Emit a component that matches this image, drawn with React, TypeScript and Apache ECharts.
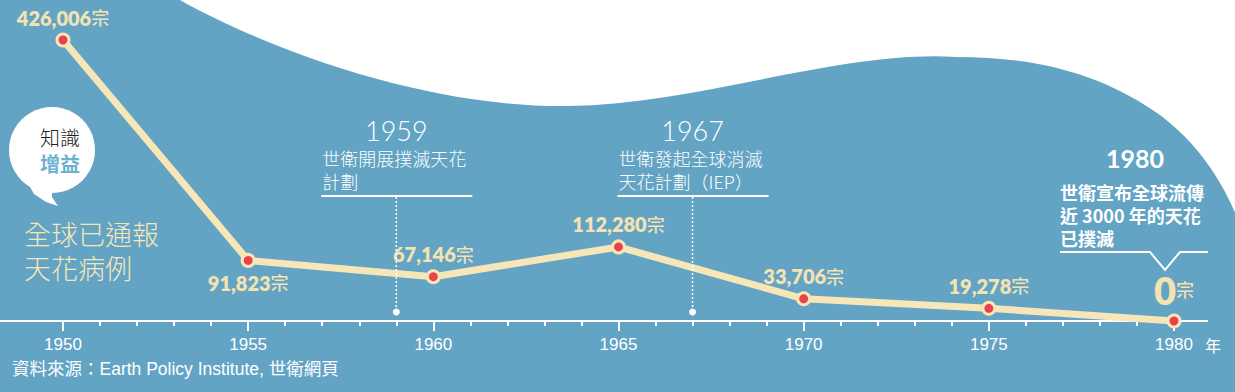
import React, { useEffect, useRef } from "react";
import * as echarts from "echarts";

// ---- data ----
const years = [1950, 1955, 1960, 1965, 1970, 1975, 1980];
const cases = [426006, 91823, 67146, 112280, 33706, 19278, 0];
const labelSides = ["top", "bottom", "top", "top", "top", "top", "top"];
const xMin = 1950;
const xMax = 1980;
const xStep = 5;
const events = [
  { year: 1959, title: "1959", lines: ["世衛開展撲滅天花", "計劃"] },
  { year: 1967, title: "1967", lines: ["世衛發起全球消滅", "天花計劃（IEP）"] },
];
const finalEvent = { year: 1980, title: "1980", lines: ["世衛宣布全球流傳", "近 3000 年的天花", "已撲滅"] };
const sideTitle = ["全球已通報", "天花病例"];
const bubbleLines = ["知識", "增益"];
const sourceText = "資料來源：Earth Policy Institute, 世衛網頁";
const unit = "宗";
const yearUnit = "年";

const BLUE = "#63a4c4";
const CREAM = "#f6e6b8";
const LABEL = "#f3e2b2";
const RED = "#e8434c";
const CJK = "'Noto Sans CJK TC', 'Noto Sans', sans-serif";
const NUM = "Lato, 'Noto Sans', sans-serif";

const WAVE =
  "M180,0 C260,45 420,108 568,106 C700,104 840,50 956,57 C1050,57 1110,80 1160,115 C1200,145 1225,185 1240,225 L1240,0 Z";

let registered = false;

export default function App() {
  const ref = useRef<HTMLDivElement>(null);

  useEffect(() => {
    if (!registered) {
      echarts.graphic.registerShape("wave", echarts.graphic.extendPath(WAVE, {}));
      registered = true;
    }
    const chart = echarts.init(ref.current!, null, { renderer: "svg" });
    const fmt = (v: number) => v.toLocaleString("en-US");
    chart.setOption({
      animation: false,
      backgroundColor: BLUE,
      grid: { left: 63, right: 61, top: 40, bottom: 71 },
      xAxis: {
        type: "value",
        min: xMin,
        max: xMax,
        interval: xStep,
        axisLine: { show: false },
        axisTick: { show: true, length: 10, lineStyle: { color: "#fff", width: 2 } },
        minorTick: { show: true, splitNumber: 5, length: 5, lineStyle: { color: "#fff", width: 2 } },
        splitLine: { show: false },
        minorSplitLine: { show: false },
        axisLabel: {
          color: "#fff",
          fontSize: 17,
          fontFamily: "'Liberation Sans Narrow', 'Liberation Sans', Arial, sans-serif",
          margin: 15,
          formatter: (v: number) => String(v),
        },
      },
      yAxis: { type: "value", min: 0, max: cases[0], show: false },
      series: [
        {
          type: "line",
          z: 3,
          data: years.map((y, i) => ({
            value: [y, cases[i]],
            label: {
              position: labelSides[i],
              distance: 5,
            },
          })),
          symbol: "circle",
          symbolSize: 12,
          lineStyle: { color: CREAM, width: 7 },
          itemStyle: { color: RED, borderColor: CREAM, borderWidth: 3 },
          label: {
            show: true,
            formatter: (p: any) =>
              p.value[1] === 0
                ? `{big|${fmt(p.value[1])}}{u|${unit}}`
                : `{n|${fmt(p.value[1])}}{u|${unit}}`,
            rich: {
              n: { fontFamily: NUM, fontWeight: 800, fontSize: 20, color: LABEL },
              big: { fontFamily: NUM, fontWeight: 800, fontSize: 38, color: LABEL },
              u: { fontFamily: CJK, fontWeight: 500, fontSize: 18, color: LABEL, padding: [0, 0, 1, 0] },
            },
          },
        },
      ],
    });

    const px = (yr: number) => chart.convertToPixel({ xAxisIndex: 0 }, yr) as number;
    const axisY = chart.convertToPixel({ yAxisIndex: 0 }, 0) as number;

    const g: any[] = [];
    g.push({ type: "wave", x: 0, y: 0, z: 0, style: { fill: "#ffffff" } });
    g.push({
      type: "line",
      z: 1,
      shape: { x1: 0, y1: axisY, x2: 1208, y2: axisY },
      style: { stroke: "#fff", lineWidth: 2 },
    });
    g.push({
      type: "text",
      z: 5,
      x: 1205,
      y: axisY + 24,
      style: { text: yearUnit, fill: "#fff", font: `16px ${CJK}`, verticalAlign: "middle" },
    });
    g.push({
      type: "text",
      z: 5,
      x: 12,
      y: 369,
      style: {
        text: sourceText,
        fill: "#fff",
        font: `17.5px 'Liberation Sans', ${CJK}`,
        verticalAlign: "middle",
      },
    });

    // speech bubble
    g.push({ type: "circle", z: 4, shape: { cx: 52, cy: 150, r: 43 }, style: { fill: "#fff" } });
    g.push({
      type: "polygon",
      z: 4,
      shape: { points: [[24, 176], [34, 194], [46, 202], [58, 206], [52, 197], [52, 188]] },
      style: { fill: "#fff" },
    });
    g.push({
      type: "text",
      z: 5,
      x: 60,
      y: 137,
      style: {
        text: `{a|${bubbleLines[0]}}\n{b|${bubbleLines[1]}}`,
        align: "center",
        verticalAlign: "top",
        rich: {
          a: { fill: "#222", fontFamily: CJK, fontWeight: 300, fontSize: 20, lineHeight: 26 },
          b: { fill: "#6cb2cf", fontFamily: CJK, fontWeight: "bold", fontSize: 20, lineHeight: 26 },
        },
      },
      originY: 0,
      y: 124,
    });
    g.push({
      type: "text",
      z: 5,
      x: 24,
      y: 216,
      style: {
        text: sideTitle.join("\n"),
        fill: CREAM,
        font: `300 27px ${CJK}`,
        lineHeight: 34,
        verticalAlign: "top",
      },
    });

    // 1959 / 1967 annotations
    events.forEach((e) => {
      const cx = px(e.year);
      g.push({
        type: "text",
        z: 5,
        x: cx,
        y: 130,
        style: { text: e.title, fill: "#fff", font: `300 27px ${NUM}`, align: "center", verticalAlign: "middle" },
      });
      g.push({
        type: "text",
        z: 5,
        x: cx - 74,
        y: 146.5,
        style: {
          text: e.lines.join("\n"),
          fill: "#fff",
          font: `300 18px ${CJK}`,
          lineHeight: 23,
          verticalAlign: "top",
        },
      });
      g.push({
        type: "line",
        z: 5,
        shape: { x1: cx - 75, y1: 196, x2: cx + 76, y2: 196 },
        style: { stroke: "#fff", lineWidth: 2 },
      });
      g.push({
        type: "line",
        z: 5,
        shape: { x1: cx, y1: 197, x2: cx, y2: 311 },
        style: { stroke: "#fff", lineWidth: 1.5, lineDash: [2, 2] },
      });
      g.push({ type: "circle", z: 5, shape: { cx, cy: 312, r: 3.5 }, style: { fill: "#fff" } });
    });

    // 1980 annotation
    {
      const cx = px(finalEvent.year);
      g.push({
        type: "text",
        z: 5,
        x: cx - 39,
        y: 158,
        style: {
          text: finalEvent.title,
          fill: "#fff",
          font: `bold 25px ${NUM}`,
          align: "center",
          verticalAlign: "middle",
        },
      });
      g.push({
        type: "text",
        z: 5,
        x: cx - 114,
        y: 180.5,
        style: {
          text: finalEvent.lines.join("\n"),
          fill: "#fff",
          font: `bold 18px ${CJK}`,
          lineHeight: 23,
          verticalAlign: "top",
        },
      });
      g.push({
        type: "polyline",
        z: 5,
        shape: {
          points: [
            [cx - 114, 252],
            [cx - 24, 252],
            [cx - 9, 270],
            [cx + 6, 252],
            [cx + 34, 252],
          ],
        },
        style: { stroke: "#fff", lineWidth: 2, fill: null },
      });
    }

    chart.setOption({ graphic: g });
    return () => chart.dispose();
  }, []);

  return (
    <div
      ref={ref}
      style={{ position: "fixed", left: 0, top: 0, width: 1235, height: 392 }}
    />
  );
}
